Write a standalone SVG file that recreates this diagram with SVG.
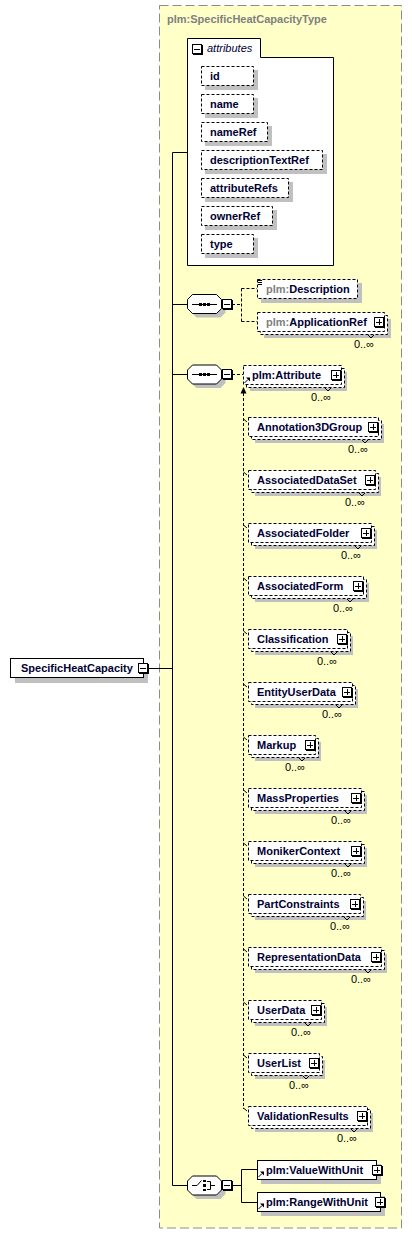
<svg xmlns="http://www.w3.org/2000/svg" xmlns:xlink="http://www.w3.org/1999/xlink" width="412" height="1234" viewBox="0 0 412 1234">
<style>
.bg{fill:#ffffc8;stroke:#8c8c8c;stroke-dasharray:9 4}
.sh{fill:#c0c0c0;stroke:none}
.opt{fill:#fff;stroke:#000;stroke-dasharray:3 2}
.req{fill:#fff;stroke:#000}
.t{font-family:"Liberation Sans",Arial,sans-serif;font-size:11px;font-weight:bold;fill:#000033}
.g{fill:#808080}
.occ{font-family:"Liberation Sans",Arial,sans-serif;font-size:11px;fill:#000;text-anchor:end}
.ln{stroke:#000;fill:none}
.dl{stroke:#000;fill:none;stroke-dasharray:3 2}
.tick{stroke:#000;fill:none}
</style>
<defs>
<g id="plus" shape-rendering="crispEdges">
<rect x="0.5" y="0.5" width="9" height="9" fill="#fff" stroke="#000"/>
<path d="M10.5,1 V10.5 H1" stroke="#000" fill="none"/>
<path d="M2,5 H8 M5,2 V8" stroke="#000" fill="none"/>
</g>
<g id="minus" shape-rendering="crispEdges">
<rect x="0.5" y="0.5" width="9" height="9" fill="#fff" stroke="#000"/>
<path d="M10.5,1 V10.5 H1" stroke="#000" fill="none"/>
<path d="M2,5 H8" stroke="#000" fill="none"/>
</g>
<g id="ref">
<path d="M0.5,6 L4,2.5" stroke="#000" fill="none"/>
<path d="M2,0.5 H6 V4.5 Z" fill="#000"/>
</g>
<path id="oct" d="M5,0 H29 L34,5 V14 L29,19 H5 L0,14 V5 Z"/>
</defs>

<rect class="bg" x="159.5" y="5.5" width="242" height="1222.5"/>
<text class="t g" x="167" y="23">plm:SpecificHeatCapacityType</text>

<g id="connectors">
<path class="ln" d="M149,668.5 H172.5 M172.5,152.5 V1185.5 M172.5,152.5 H187 M172.5,304.5 H187 M172.5,374.5 H187 M172.5,1185.5 H187"/>
<path class="dl" d="M232,304.5 H241.5 M241.5,288.5 V321.5 M241.5,288.5 H257 M241.5,321.5 H257"/>
<path class="dl" d="M232,374.5 H243"/>
<path class="dl" d="M243.5,393 V1109"/>
<path d="M243.5,387 L240.5,393.5 H246.5 Z" fill="#000"/>
<path class="tick" d="M243.5,419 L247,422 M243.5,472 L247,475 M243.5,525 L247,528 M243.5,578 L247,581 M243.5,631 L247,634 M243.5,684 L247,687 M243.5,737 L247,740 M243.5,790 L247,793 M243.5,843 L247,846 M243.5,896 L247,899 M243.5,949 L247,952 M243.5,1002 L247,1005 M243.5,1055 L247,1058 M243.5,1108 L247,1111"/>
<path class="ln" d="M232,1185.5 H241.5 M241.5,1169.5 V1202.5 M241.5,1169.5 H257 M241.5,1202.5 H257"/>
</g>

<g id="SpecificHeatCapacity">
<rect class="sh" x="15" y="663" width="133" height="20"/>
<rect class="req" x="10.5" y="658.5" width="133" height="19"/>
<text class="t" x="21" y="672">SpecificHeatCapacity</text>
<use xlink:href="#minus" href="#minus" x="138" y="663"/>
</g>

<g id="attributes">
<path class="req" d="M187.5,265.5 V38.5 H260.5 V57.5 H333.5 V265.5 Z"/>
<use xlink:href="#minus" href="#minus" x="192" y="44"/>
<text x="207" y="52" style="font-family:'Liberation Sans',Arial,sans-serif;font-size:11px;font-style:italic;fill:#000033">attributes</text>
<g id="attr-id"><rect class="sh" x="205" y="70" width="53" height="20"/><rect class="opt" x="201.5" y="66.5" width="52" height="19"/><text class="t" x="210" y="80">id</text></g>
<g id="attr-name"><rect class="sh" x="205" y="98" width="53" height="20"/><rect class="opt" x="201.5" y="94.5" width="52" height="19"/><text class="t" x="210" y="108">name</text></g>
<g id="attr-nameRef"><rect class="sh" x="205" y="126" width="67" height="20"/><rect class="opt" x="201.5" y="122.5" width="66" height="19"/><text class="t" x="210" y="136">nameRef</text></g>
<g id="attr-descriptionTextRef"><rect class="sh" x="205" y="154" width="122" height="20"/><rect class="opt" x="201.5" y="150.5" width="121" height="19"/><text class="t" x="210" y="164">descriptionTextRef</text></g>
<g id="attr-attributeRefs"><rect class="sh" x="205" y="182" width="88" height="20"/><rect class="opt" x="201.5" y="178.5" width="87" height="19"/><text class="t" x="210" y="192">attributeRefs</text></g>
<g id="attr-ownerRef"><rect class="sh" x="205" y="210" width="72" height="20"/><rect class="opt" x="201.5" y="206.5" width="71" height="19"/><text class="t" x="210" y="220">ownerRef</text></g>
<g id="attr-type"><rect class="sh" x="205" y="238" width="53" height="20"/><rect class="opt" x="201.5" y="234.5" width="52" height="19"/><text class="t" x="210" y="248">type</text></g>
</g>

<g id="sequence1">
<use xlink:href="#oct" href="#oct" x="191.5" y="298.5" class="sh"/>
<use xlink:href="#oct" href="#oct" x="187.5" y="294.5" class="req"/>
<path class="ln" d="M192,304.5 H217"/>
<rect x="199" y="303" width="3" height="3" fill="#000"/><rect x="203" y="303" width="3" height="3" fill="#000"/><rect x="207" y="303" width="3" height="3" fill="#000"/>
<use xlink:href="#minus" href="#minus" x="222" y="299"/>
</g>

<g id="Description">
<rect class="sh" x="261" y="283" width="101" height="20"/>
<rect class="opt" x="257.5" y="279.5" width="100" height="19"/>
<path class="ln" d="M258,280.5 H262 M258,282.5 H262 M258,284.5 H262"/>
<text class="t" x="266" y="293"><tspan class="g">plm:</tspan>Description</text>
</g>

<g id="ApplicationRef">
<rect class="sh" x="264" y="319" width="127" height="19"/>
<rect class="opt" x="260.5" y="315.5" width="127" height="19"/>
<rect class="opt" x="257.5" y="312.5" width="127" height="19"/>
<text class="t" x="266" y="326"><tspan class="g">plm:</tspan>ApplicationRef</text>
<use xlink:href="#plus" href="#plus" x="374" y="317"/>
<path class="tick" d="M368,335 L371,338 L374,335"/>
<text class="occ" x="374" y="348">0..∞</text>
</g>

<g id="sequence2">
<use xlink:href="#oct" href="#oct" x="191.5" y="369" class="sh"/>
<use xlink:href="#oct" href="#oct" x="187.5" y="365" class="req"/>
<path class="ln" d="M192,374.5 H217"/>
<rect x="199" y="373" width="3" height="3" fill="#000"/><rect x="203" y="373" width="3" height="3" fill="#000"/><rect x="207" y="373" width="3" height="3" fill="#000"/>
<use xlink:href="#minus" href="#minus" x="222" y="369"/>
</g>

<g id="Attribute">
<rect class="sh" x="250" y="372" width="97" height="19"/>
<rect class="opt" x="246.5" y="368.5" width="98" height="19"/>
<rect class="opt" x="243.5" y="365.5" width="98" height="19"/>
<use xlink:href="#ref" href="#ref" x="244" y="377"/>
<text class="t" x="252" y="379">plm:Attribute</text>
<use xlink:href="#plus" href="#plus" x="331" y="370"/>
<path class="tick" d="M325,388 L328,391 L331,388"/>
<text class="occ" x="331" y="401">0..∞</text>
</g>

<g id="Annotation3DGroup">
<rect class="sh" x="255" y="424" width="129" height="19"/><rect class="opt" x="251.5" y="420.5" width="130" height="19"/><rect class="opt" x="248.5" y="417.5" width="130" height="19"/>
<text class="t" x="257" y="431">Annotation3DGroup</text><use xlink:href="#plus" href="#plus" x="368" y="422"/>
<path class="tick" d="M362,440 L365,443 L368,440"/><text class="occ" x="368" y="453">0..∞</text>
</g>
<g id="AssociatedDataSet">
<rect class="sh" x="255" y="477" width="126" height="19"/><rect class="opt" x="251.5" y="473.5" width="127" height="19"/><rect class="opt" x="248.5" y="470.5" width="127" height="19"/>
<text class="t" x="257" y="484">AssociatedDataSet</text><use xlink:href="#plus" href="#plus" x="365" y="475"/>
<path class="tick" d="M359,493 L362,496 L365,493"/><text class="occ" x="365" y="506">0..∞</text>
</g>
<g id="AssociatedFolder">
<rect class="sh" x="255" y="530" width="122" height="19"/><rect class="opt" x="251.5" y="526.5" width="123" height="19"/><rect class="opt" x="248.5" y="523.5" width="123" height="19"/>
<text class="t" x="257" y="537">AssociatedFolder</text><use xlink:href="#plus" href="#plus" x="361" y="528"/>
<path class="tick" d="M355,546 L358,549 L361,546"/><text class="occ" x="361" y="559">0..∞</text>
</g>
<g id="AssociatedForm">
<rect class="sh" x="255" y="583" width="114" height="19"/><rect class="opt" x="251.5" y="579.5" width="115" height="19"/><rect class="opt" x="248.5" y="576.5" width="115" height="19"/>
<text class="t" x="257" y="590">AssociatedForm</text><use xlink:href="#plus" href="#plus" x="353" y="581"/>
<path class="tick" d="M347,599 L350,602 L353,599"/><text class="occ" x="353" y="612">0..∞</text>
</g>
<g id="Classification">
<rect class="sh" x="255" y="636" width="98" height="19"/><rect class="opt" x="251.5" y="632.5" width="99" height="19"/><rect class="opt" x="248.5" y="629.5" width="99" height="19"/>
<text class="t" x="257" y="643">Classification</text><use xlink:href="#plus" href="#plus" x="337" y="634"/>
<path class="tick" d="M331,652 L334,655 L337,652"/><text class="occ" x="337" y="665">0..∞</text>
</g>
<g id="EntityUserData">
<rect class="sh" x="255" y="689" width="103" height="19"/><rect class="opt" x="251.5" y="685.5" width="104" height="19"/><rect class="opt" x="248.5" y="682.5" width="104" height="19"/>
<text class="t" x="257" y="696">EntityUserData</text><use xlink:href="#plus" href="#plus" x="342" y="687"/>
<path class="tick" d="M336,705 L339,708 L342,705"/><text class="occ" x="342" y="718">0..∞</text>
</g>
<g id="Markup">
<rect class="sh" x="255" y="742" width="66" height="19"/><rect class="opt" x="251.5" y="738.5" width="67" height="19"/><rect class="opt" x="248.5" y="735.5" width="67" height="19"/>
<text class="t" x="257" y="749">Markup</text><use xlink:href="#plus" href="#plus" x="305" y="740"/>
<path class="tick" d="M299,758 L302,761 L305,758"/><text class="occ" x="305" y="771">0..∞</text>
</g>
<g id="MassProperties">
<rect class="sh" x="255" y="795" width="112" height="19"/><rect class="opt" x="251.5" y="791.5" width="113" height="19"/><rect class="opt" x="248.5" y="788.5" width="113" height="19"/>
<text class="t" x="257" y="802">MassProperties</text><use xlink:href="#plus" href="#plus" x="351" y="793"/>
<path class="tick" d="M345,811 L348,814 L351,811"/><text class="occ" x="351" y="824">0..∞</text>
</g>
<g id="MonikerContext">
<rect class="sh" x="255" y="848" width="112" height="19"/><rect class="opt" x="251.5" y="844.5" width="113" height="19"/><rect class="opt" x="248.5" y="841.5" width="113" height="19"/>
<text class="t" x="257" y="855">MonikerContext</text><use xlink:href="#plus" href="#plus" x="351" y="846"/>
<path class="tick" d="M345,864 L348,867 L351,864"/><text class="occ" x="351" y="877">0..∞</text>
</g>
<g id="PartConstraints">
<rect class="sh" x="255" y="901" width="111" height="19"/><rect class="opt" x="251.5" y="897.5" width="112" height="19"/><rect class="opt" x="248.5" y="894.5" width="112" height="19"/>
<text class="t" x="257" y="908">PartConstraints</text><use xlink:href="#plus" href="#plus" x="350" y="899"/>
<path class="tick" d="M344,917 L347,920 L350,917"/><text class="occ" x="350" y="930">0..∞</text>
</g>
<g id="RepresentationData">
<rect class="sh" x="255" y="954" width="132" height="19"/><rect class="opt" x="251.5" y="950.5" width="133" height="19"/><rect class="opt" x="248.5" y="947.5" width="133" height="19"/>
<text class="t" x="257" y="961">RepresentationData</text><use xlink:href="#plus" href="#plus" x="371" y="952"/>
<path class="tick" d="M365,970 L368,973 L371,970"/><text class="occ" x="371" y="983">0..∞</text>
</g>
<g id="UserData">
<rect class="sh" x="255" y="1007" width="72" height="19"/><rect class="opt" x="251.5" y="1003.5" width="73" height="19"/><rect class="opt" x="248.5" y="1000.5" width="73" height="19"/>
<text class="t" x="257" y="1014">UserData</text><use xlink:href="#plus" href="#plus" x="311" y="1005"/>
<path class="tick" d="M305,1023 L308,1026 L311,1023"/><text class="occ" x="311" y="1036">0..∞</text>
</g>
<g id="UserList">
<rect class="sh" x="255" y="1060" width="70" height="19"/><rect class="opt" x="251.5" y="1056.5" width="71" height="19"/><rect class="opt" x="248.5" y="1053.5" width="71" height="19"/>
<text class="t" x="257" y="1067">UserList</text><use xlink:href="#plus" href="#plus" x="309" y="1058"/>
<path class="tick" d="M303,1076 L306,1079 L309,1076"/><text class="occ" x="309" y="1089">0..∞</text>
</g>
<g id="ValidationResults">
<rect class="sh" x="255" y="1113" width="118" height="19"/><rect class="opt" x="251.5" y="1109.5" width="119" height="19"/><rect class="opt" x="248.5" y="1106.5" width="119" height="19"/>
<text class="t" x="257" y="1120">ValidationResults</text><use xlink:href="#plus" href="#plus" x="357" y="1111"/>
<path class="tick" d="M351,1129 L354,1132 L357,1129"/><text class="occ" x="357" y="1142">0..∞</text>
</g>

<g id="choice">
<use xlink:href="#oct" href="#oct" x="191.5" y="1180" class="sh"/>
<use xlink:href="#oct" href="#oct" x="187.5" y="1176" class="req"/>
<path class="ln" d="M192,1185.5 H197 L201.5,1180.5"/>
<rect x="203" y="1180" width="3" height="2" fill="#000"/><rect x="203" y="1184" width="3" height="3" fill="#000"/><rect x="203" y="1189" width="3" height="2" fill="#000"/>
<path class="ln" d="M207,1181.5 H210.5 V1189.5 H207 M210.5,1185.5 H215"/>
<use xlink:href="#minus" href="#minus" x="222" y="1180"/>
</g>

<g id="ValueWithUnit">
<rect class="sh" x="261" y="1164" width="120" height="20"/>
<rect class="req" x="257.5" y="1160.5" width="119" height="19"/>
<use xlink:href="#ref" href="#ref" x="258" y="1171"/>
<text class="t" x="266" y="1174">plm:ValueWithUnit</text>
<use xlink:href="#plus" href="#plus" x="372" y="1165"/>
</g>

<g id="RangeWithUnit">
<rect class="sh" x="261" y="1196" width="124" height="20"/>
<rect class="req" x="257.5" y="1192.5" width="123" height="19"/>
<use xlink:href="#ref" href="#ref" x="258" y="1203"/>
<text class="t" x="266" y="1206">plm:RangeWithUnit</text>
<use xlink:href="#plus" href="#plus" x="375" y="1197"/>
</g>
</svg>
